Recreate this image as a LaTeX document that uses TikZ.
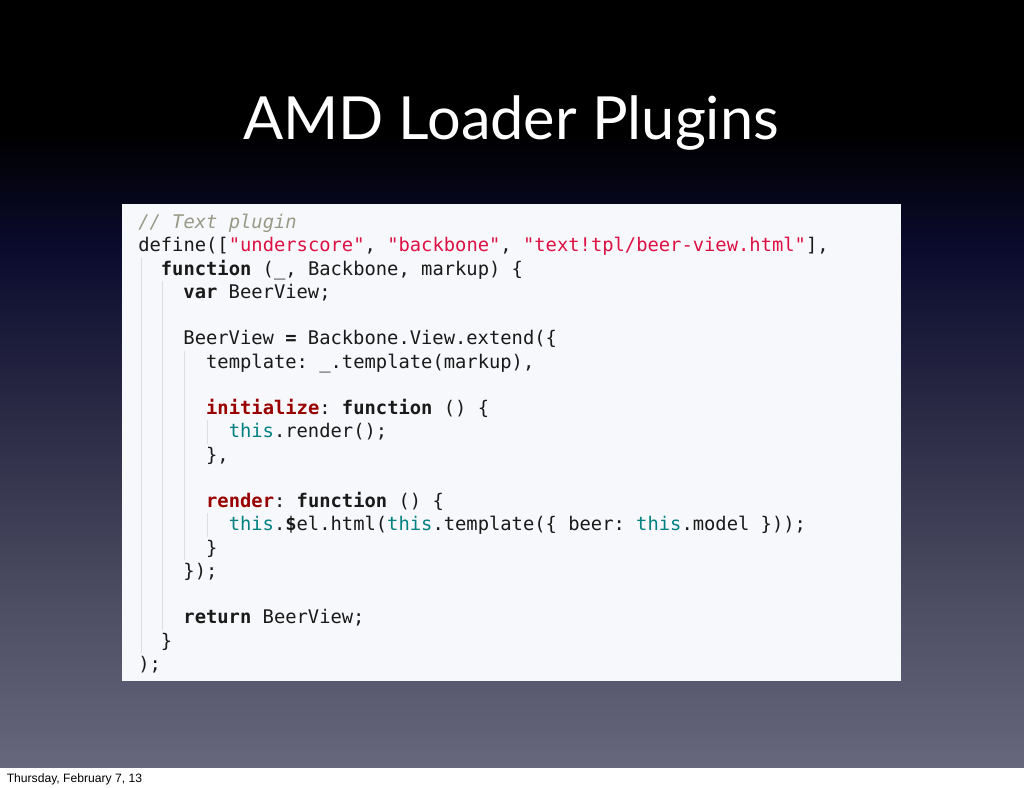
\documentclass[tikz,border=0pt]{standalone}
\usepackage{fontspec}
\newfontfamily\codefont{DejaVu Sans Mono}[BoldFont={DejaVu Sans Mono Bold},ItalicFont={DejaVu Sans Mono Oblique}]
\newfontfamily\titlefont{Lato}
\newfontfamily\footfont{Liberation Sans}
\definecolor{codetext}{HTML}{1A1A1A}
\definecolor{cmtgrey}{HTML}{999988}
\definecolor{strred}{HTML}{DD1144}
\definecolor{propred}{HTML}{990000}
\definecolor{thisteal}{HTML}{008080}
\definecolor{boxfill}{HTML}{F7F8FB}
\definecolor{guidegrey}{HTML}{DDDDE4}
\definecolor{bgA}{HTML}{66667C}
\definecolor{bgB}{HTML}{4C4C62}
\definecolor{bgC}{HTML}{2B2B46}
\definecolor{bgD}{HTML}{0B0B2E}
\pgfdeclareverticalshading{slidebg}{100bp}{color(0bp)=(bgA); color(25bp)=(bgA); color(35.9bp)=(bgB); color(47.7bp)=(bgC); color(58.7bp)=(bgD); color(66.5bp)=(black); color(100bp)=(black)}
\newcommand\kw[1]{\textbf{#1}}
\newcommand\cstr[1]{\textcolor{strred}{#1}}
\newcommand\prp[1]{\textcolor{propred}{\textbf{#1}}}
\newcommand\tis{\textcolor{thisteal}{this}}
\begin{document}
\begin{tikzpicture}[x=0.75pt,y=-0.75pt,
  codeline/.style={anchor=base west, inner sep=0pt, text=codetext,
    font=\codefont\fontsize{14.1pt}{17pt}\selectfont\frenchspacing},
  guide/.style={draw=guidegrey, line width=0.75pt}]
\useasboundingbox (0,0) rectangle (1024,788);
\shade[shading=slidebg] (0,0) rectangle (1024,768);
\fill[white] (0,768) rectangle (1024,788);
\node[anchor=base, inner sep=0pt, text=white, font=\titlefont\fontsize{44.6pt}{54pt}\selectfont] (title) at (511,140) {AMD Loader Plugins};
\fill[boxfill] (122,204) rectangle (901,681);
% indent guides
\draw[guide] (141.5,257.5) -- (141.5,653);
\draw[guide] (162.5,280.8) -- (162.5,629.7);
\draw[guide] (184,350.6) -- (184,560);
\draw[guide] (207,420.3) -- (207,443.6);
\draw[guide] (207,513.4) -- (207,536.7);
% code
\node[codeline] (l1) at (138,228.5) {\textcolor{cmtgrey}{\itshape // Text plugin}};
\node[codeline] (l2) at (138,251.76) {define([\cstr{"underscore"}, \cstr{"backbone"}, \cstr{"text!tpl/beer-view.html"}],};
\node[codeline] (l3) at (160.6,275.02) {\kw{function} (\_, Backbone, markup) \{};
\node[codeline] (l4) at (183.2,298.28) {\kw{var} BeerView;};
\node[codeline] (l6) at (183.2,344.8) {BeerView \kw{=} Backbone.View.extend(\{};
\node[codeline] (l7) at (205.9,368.06) {template: \_.template(markup),};
\node[codeline] (l9) at (205.9,414.58) {\prp{initialize}: \kw{function} () \{};
\node[codeline] (l10) at (228.5,437.84) {\tis.render();};
\node[codeline] (l11) at (205.9,461.1) {\},};
\node[codeline] (l13) at (205.9,507.62) {\prp{render}: \kw{function} () \{};
\node[codeline] (l14) at (228.5,530.88) {\tis.\kw{\$}el.html(\tis.template(\{ beer: \tis.model \}));};
\node[codeline] (l15) at (205.9,554.14) {\}};
\node[codeline] (l16) at (183.2,577.4) {\});};
\node[codeline] (l18) at (183.2,623.92) {\kw{return} BeerView;};
\node[codeline] (l19) at (160.6,647.18) {\}};
\node[codeline] (l20) at (138,670.44) {);};
\node[anchor=base west, inner sep=0pt, text=black, font=\footfont\fontsize{9.1pt}{11pt}\selectfont] (foot) at (6.5,782.5) {Thursday, February 7, 13};
\end{tikzpicture}
\end{document}
